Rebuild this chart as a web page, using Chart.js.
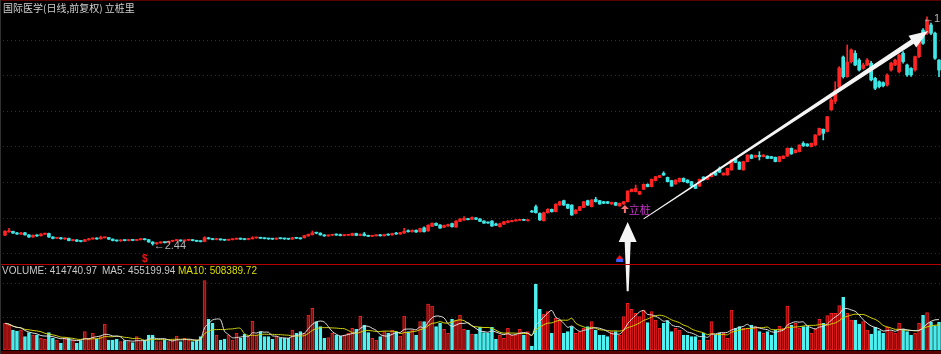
<!DOCTYPE html>
<html>
<head>
<meta charset="utf-8">
<script src="https://cdn.jsdelivr.net/npm/chart.js@4.4.1/dist/chart.umd.min.js"></script>
<style>
body { margin: 0; background: #000; }
#wrap { position: relative; width: 941px; height: 354px; overflow: hidden; background: #000; }
#wrap canvas { position: absolute; left: 0; }
.rule { position: absolute; left: 0; width: 941px; }
.txt { position: absolute; white-space: nowrap; font-family: 'Liberation Sans', Arial, sans-serif; font-size: 10px; line-height: 12px; }
</style>
</head>
<body>
<div id="wrap">
    <canvas id="price" width="941" height="264" style="top:0"></canvas>
    <canvas id="volume" width="941" height="90" style="top:264px"></canvas>
    <canvas id="notes" width="941" height="354" style="top:0"></canvas>
    <div class="rule" style="top:0;height:1px;background:#5a0000"></div>
    <div class="rule" style="top:264px;height:1px;background:#b40000"></div>
    <div class="rule" style="top:351px;height:3px;background:#5a0000"></div>
    <div style="position:absolute;left:0;top:0;width:1px;height:354px;background:#303030"></div>
    <div class="txt" style="left:3px;top:2px;color:#d0d0d0;font-family:'Noto Sans CJK SC',sans-serif">国际医学(日线,前复权) 立桩里</div>
    <div class="txt" style="left:2px;top:265px;color:#c8c8c8">VOLUME: 414740.97</div>
    <div class="txt" style="left:102px;top:265px;color:#c8c8c8">MA5: 455199.94</div>
    <div class="txt" style="left:178px;top:265px;color:#dede00">MA10: 508389.72</div>
</div>
<script>
// daily candles (price units)
const opens = [
    3.01, 3.20, 3.22, 3.13, 3.06, 3.14, 3.02, 2.90, 3.00, 2.97,
    3.06, 3.10, 2.90, 2.83, 2.86, 2.79, 2.82, 2.70, 2.74, 2.67,
    2.65, 2.74, 2.79, 2.84, 2.80, 2.86, 2.87, 2.78, 2.71, 2.68,
    2.73, 2.70, 2.74, 2.71, 2.75, 2.79, 2.75, 2.62, 2.52, 2.57,
    2.62, 2.58, 2.66, 2.70, 2.72, 2.68, 2.72, 2.74, 2.70, 2.67,
    2.65, 2.85, 2.80, 2.76, 2.78, 2.74, 2.72, 2.75, 2.78, 2.82,
    2.78, 2.76, 2.80, 2.85, 2.87, 2.83, 2.81, 2.80, 2.78, 2.83,
    2.82, 2.80, 2.78, 2.86, 2.84, 2.86, 2.96, 3.03, 3.13, 3.12,
    3.02, 2.96, 3.00, 3.06, 3.02, 2.98, 3.00, 2.99, 3.10, 2.99,
    3.07, 2.98, 2.94, 2.97, 3.02, 2.97, 3.04, 3.02, 3.10, 3.07,
    3.12, 3.24, 3.20, 3.28, 3.20, 3.42, 3.25, 3.50, 3.67, 3.58,
    3.45, 3.52, 3.66, 3.46, 3.78, 3.85, 3.94, 3.90, 3.98, 3.92,
    3.80, 3.72, 3.80, 3.64, 3.48, 3.63, 3.72, 3.77, 3.81, 3.84,
    3.88, 3.82, 4.36, 4.61, 4.23, 3.82, 4.27, 4.46, 4.33, 4.70,
    4.95, 4.74, 4.70, 4.23, 4.40, 4.57, 4.95, 4.61, 5.02, 4.95,
    4.89, 4.89, 4.76, 4.84, 4.65, 4.76, 4.89, 5.46, 5.46, 5.31,
    5.59, 5.87, 5.74, 6.08, 6.26, 6.49, 6.26, 6.08, 5.89, 6.02,
    6.21, 6.11, 6.02, 5.83, 5.77, 6.28, 6.15, 6.30, 6.53, 6.75,
    6.40, 6.40, 6.68, 7.33, 7.12, 6.68, 7.15, 7.52, 7.40, 7.50,
    7.43, 7.46, 7.43, 7.39, 7.15, 7.33, 7.46, 7.90, 7.65, 7.71,
    8.18, 8.14, 7.99, 8.08, 8.65, 8.97, 8.84, 10.06, 10.55, 11.35,
    13.04, 11.93, 12.78, 13.25, 12.87, 12.40, 12.59, 12.69, 11.84, 11.65,
    11.60, 11.46, 12.31, 12.59, 12.22, 13.25, 12.59, 12.40, 12.31, 13.06,
    14.56, 14.38, 14.85, 14.38, 12.87
];
const closes = [
    3.22, 3.24, 3.12, 3.07, 3.13, 3.02, 2.90, 3.00, 2.96, 3.07,
    3.10, 2.90, 2.82, 2.86, 2.80, 2.83, 2.70, 2.74, 2.66, 2.65,
    2.75, 2.80, 2.84, 2.79, 2.88, 2.87, 2.78, 2.70, 2.68, 2.73,
    2.70, 2.74, 2.71, 2.75, 2.79, 2.75, 2.62, 2.52, 2.58, 2.62,
    2.58, 2.66, 2.70, 2.74, 2.68, 2.72, 2.74, 2.70, 2.66, 2.64,
    2.86, 2.80, 2.76, 2.79, 2.74, 2.72, 2.76, 2.78, 2.82, 2.78,
    2.76, 2.80, 2.86, 2.87, 2.83, 2.81, 2.79, 2.78, 2.83, 2.81,
    2.79, 2.78, 2.86, 2.83, 2.80, 2.98, 3.05, 3.14, 3.12, 3.02,
    2.96, 3.01, 3.03, 3.01, 2.98, 3.01, 3.02, 3.10, 2.99, 3.05,
    2.98, 2.94, 2.98, 3.01, 2.97, 3.04, 3.01, 3.10, 3.07, 3.15,
    3.22, 3.20, 3.28, 3.18, 3.38, 3.20, 3.56, 3.67, 3.56, 3.40,
    3.55, 3.60, 3.48, 3.80, 3.92, 3.95, 3.88, 4.00, 3.90, 3.78,
    3.68, 3.69, 3.52, 3.56, 3.65, 3.76, 3.80, 3.82, 3.86, 3.88,
    3.84, 3.86, 4.31, 4.27, 3.86, 4.27, 4.46, 4.33, 4.74, 4.89,
    4.70, 4.52, 4.14, 4.42, 4.61, 4.89, 4.70, 4.99, 4.89, 4.76,
    4.80, 4.80, 4.85, 4.69, 4.80, 4.89, 5.49, 5.59, 5.64, 5.46,
    5.87, 5.74, 6.15, 6.30, 6.36, 6.39, 6.02, 5.77, 6.11, 6.21,
    6.02, 5.96, 5.77, 5.64, 6.15, 6.12, 6.30, 6.49, 6.39, 6.55,
    6.50, 6.77, 7.24, 7.10, 6.72, 7.15, 7.52, 7.33, 7.50, 7.43,
    7.52, 7.33, 7.33, 7.15, 7.43, 7.46, 7.90, 7.58, 7.80, 8.08,
    8.03, 8.03, 8.18, 8.65, 9.02, 8.74, 9.68, 10.62, 11.18, 12.42,
    11.93, 12.76, 13.44, 12.59, 12.31, 12.59, 12.87, 11.75, 11.28, 11.37,
    11.42, 12.03, 12.69, 12.87, 13.15, 12.78, 12.03, 12.03, 13.06, 14.00,
    13.81, 15.13, 14.38, 12.97, 12.31
];
const highs = [
    3.26, 3.39, 3.24, 3.16, 3.16, 3.16, 3.04, 3.02, 3.04, 3.09,
    3.12, 3.12, 2.92, 2.88, 2.88, 2.85, 2.84, 2.76, 2.75, 2.69,
    2.77, 2.82, 2.86, 2.86, 2.95, 2.90, 2.88, 2.80, 2.73, 2.75,
    2.75, 2.76, 2.76, 2.77, 2.81, 2.81, 2.77, 2.64, 2.60, 2.64,
    2.64, 2.68, 2.72, 2.76, 2.74, 2.74, 2.76, 2.76, 2.72, 2.69,
    2.92, 2.88, 2.82, 2.81, 2.80, 2.76, 2.78, 2.80, 2.84, 2.84,
    2.80, 2.82, 2.92, 2.89, 2.89, 2.85, 2.83, 2.82, 2.85, 2.85,
    2.84, 2.82, 2.88, 2.88, 2.86, 3.00, 3.07, 3.24, 3.16, 3.14,
    3.04, 3.03, 3.05, 3.08, 3.07, 3.03, 3.04, 3.12, 3.12, 3.08,
    3.16, 3.01, 3.00, 3.03, 3.05, 3.06, 3.08, 3.12, 3.16, 3.17,
    3.39, 3.30, 3.30, 3.30, 3.40, 3.48, 3.60, 3.70, 3.70, 3.60,
    3.58, 3.63, 3.68, 3.82, 3.94, 4.05, 3.96, 4.04, 4.00, 3.94,
    3.82, 3.75, 3.82, 3.68, 3.68, 3.78, 3.82, 3.84, 3.88, 3.90,
    3.90, 3.88, 4.40, 4.70, 4.27, 4.30, 4.50, 4.48, 4.78, 4.92,
    4.98, 4.76, 4.72, 4.45, 4.63, 4.91, 4.98, 5.01, 5.14, 4.97,
    4.91, 4.91, 4.87, 4.86, 4.82, 4.91, 5.51, 5.61, 5.83, 5.48,
    5.89, 5.90, 6.17, 6.32, 6.38, 6.58, 6.28, 6.10, 6.13, 6.23,
    6.23, 6.13, 6.04, 5.85, 6.17, 6.30, 6.32, 6.51, 6.55, 6.85,
    6.52, 6.79, 7.26, 7.35, 7.14, 7.17, 7.54, 7.54, 7.52, 7.71,
    7.54, 7.48, 7.45, 7.41, 7.45, 7.48, 7.92, 7.92, 7.82, 8.10,
    8.27, 8.16, 8.20, 8.67, 9.04, 8.99, 9.70, 10.71, 11.65, 12.50,
    13.10, 13.72, 13.50, 13.40, 12.95, 12.70, 12.95, 12.80, 11.90, 11.70,
    11.65, 12.10, 12.75, 12.92, 13.20, 13.35, 12.65, 12.45, 13.10, 14.05,
    14.65, 15.31, 14.95, 14.45, 12.90
];
const lows = [
    2.98, 3.16, 3.10, 3.05, 3.04, 3.00, 2.88, 2.88, 2.94, 2.95,
    3.04, 2.88, 2.80, 2.81, 2.78, 2.77, 2.68, 2.68, 2.64, 2.63,
    2.64, 2.72, 2.77, 2.77, 2.78, 2.84, 2.76, 2.68, 2.66, 2.66,
    2.68, 2.68, 2.69, 2.69, 2.73, 2.73, 2.60, 2.44, 2.48, 2.54,
    2.56, 2.56, 2.64, 2.68, 2.66, 2.66, 2.70, 2.68, 2.64, 2.62,
    2.63, 2.78, 2.74, 2.74, 2.72, 2.70, 2.70, 2.73, 2.76, 2.76,
    2.74, 2.74, 2.78, 2.83, 2.81, 2.79, 2.77, 2.76, 2.76, 2.79,
    2.77, 2.76, 2.76, 2.81, 2.78, 2.84, 2.94, 3.01, 3.08, 3.00,
    2.94, 2.94, 2.97, 2.99, 2.96, 2.96, 2.98, 2.97, 2.97, 2.97,
    2.96, 2.92, 2.92, 2.95, 2.95, 2.95, 2.99, 3.00, 3.05, 3.05,
    3.10, 3.18, 3.18, 3.16, 3.18, 3.18, 3.22, 3.48, 3.54, 3.38,
    3.43, 3.50, 3.46, 3.44, 3.76, 3.83, 3.86, 3.88, 3.88, 3.76,
    3.66, 3.67, 3.50, 3.54, 3.45, 3.60, 3.70, 3.75, 3.79, 3.82,
    3.82, 3.80, 4.28, 4.25, 3.84, 3.80, 4.24, 4.30, 4.31, 4.68,
    4.68, 4.50, 4.12, 4.20, 4.38, 4.55, 4.68, 4.59, 4.87, 4.74,
    4.78, 4.78, 4.74, 4.67, 4.63, 4.74, 4.87, 5.44, 5.44, 5.29,
    5.57, 5.72, 5.72, 6.06, 6.24, 6.37, 6.00, 5.75, 5.87, 6.00,
    6.00, 5.94, 5.75, 5.62, 5.75, 6.10, 6.13, 6.28, 6.37, 6.53,
    6.38, 6.38, 6.66, 7.08, 6.70, 6.66, 7.13, 7.31, 7.38, 7.24,
    7.41, 7.31, 7.31, 7.13, 7.13, 7.31, 7.44, 7.56, 7.63, 7.69,
    8.01, 8.01, 7.97, 8.06, 8.63, 8.37, 8.82, 10.04, 10.41, 11.30,
    11.85, 11.90, 12.70, 12.55, 12.25, 12.35, 12.55, 11.70, 11.20, 11.30,
    11.35, 11.40, 12.25, 12.55, 12.15, 12.70, 11.95, 11.95, 12.25, 13.00,
    13.75, 14.30, 14.30, 12.90, 11.93
];
const volumes = [
    400000, 375000, 300000, 285000, 300000, 200000, 260000, 225000, 225000, 175000,
    160000, 260000, 175000, 150000, 100000, 175000, 175000, 150000, 100000, 140000,
    275000, 175000, 250000, 160000, 200000, 390000, 150000, 150000, 160000, 125000,
    140000, 125000, 110000, 200000, 125000, 150000, 225000, 225000, 125000, 125000,
    150000, 125000, 150000, 210000, 125000, 175000, 150000, 125000, 150000, 200000,
    1040000, 460000, 400000, 225000, 150000, 165000, 225000, 150000, 250000, 175000,
    235000, 200000, 435000, 225000, 275000, 200000, 200000, 160000, 200000, 175000,
    175000, 175000, 300000, 250000, 275000, 250000, 525000, 625000, 425000, 350000,
    175000, 185000, 250000, 225000, 210000, 225000, 250000, 325000, 310000, 510000,
    375000, 260000, 175000, 150000, 200000, 275000, 250000, 300000, 275000, 210000,
    510000, 275000, 300000, 225000, 425000, 425000, 690000, 660000, 350000, 400000,
    310000, 250000, 460000, 450000, 525000, 310000, 300000, 240000, 240000, 340000,
    260000, 250000, 340000, 160000, 225000, 175000, 325000, 225000, 225000, 310000,
    225000, 275000, 60000, 990000, 610000, 540000, 575000, 250000, 475000, 450000,
    250000, 275000, 350000, 250000, 275000, 325000, 350000, 425000, 300000, 225000,
    225000, 200000, 275000, 275000, 225000, 500000, 700000, 610000, 550000, 500000,
    600000, 410000, 575000, 450000, 325000, 400000, 440000, 275000, 325000, 300000,
    225000, 225000, 200000, 200000, 150000, 250000, 150000, 425000, 225000, 250000,
    250000, 175000, 600000, 325000, 350000, 325000, 325000, 375000, 350000, 275000,
    250000, 275000, 225000, 300000, 360000, 325000, 660000, 375000, 400000, 325000,
    350000, 350000, 250000, 310000, 460000, 400000, 515000, 550000, 550000, 665000,
    790000, 550000, 450000, 450000, 390000, 425000, 300000, 240000, 340000, 290000,
    250000, 340000, 275000, 250000, 400000, 310000, 275000, 225000, 250000, 400000,
    520000, 560000, 420000, 361000, 414740.97
];
const priceGrid = [2, 4, 6, 8, 10, 12, 14];
const volumeGrid = [500000, 1000000];

const days = opens.map((_, i) => i + 1);
const isUp = closes.map((c, i) => c >= opens[i]);
const candleColors = isUp.map(up => up ? '#ff2424' : '#3fe6e6');

function movingAvg(values, n) {
    return values.map((v, i) => {
        const part = values.slice(Math.max(0, i - n + 1), i + 1);
        return part.reduce((a, b) => a + b, 0) / part.length;
    });
}

// dotted red guide lines
const dottedGrid = {
    id: 'dottedGrid',
    beforeDatasetsDraw(chart, args, opts) {
        const { ctx, chartArea, scales } = chart;
        ctx.save();
        ctx.strokeStyle = '#9a0000';
        ctx.lineWidth = 1;
        ctx.setLineDash([1, 3]);
        opts.levels.forEach(v => {
            const y = Math.round(scales.y.getPixelForValue(v)) + 0.5;
            ctx.beginPath();
            ctx.moveTo(chartArea.left, y);
            ctx.lineTo(chartArea.right, y);
            ctx.stroke();
        });
        ctx.restore();
    }
};

const baseOptions = {
    responsive: false,
    animation: false,
    events: [],
    plugins: { legend: { display: false }, tooltip: { enabled: false } }
};

const priceChart = new Chart(document.getElementById('price'), {
    type: 'bar',
    data: {
        labels: days,
        datasets: [{
            data: lows.map((l, i) => [l, highs[i]]),
            backgroundColor: candleColors,
            barThickness: 1,
            grouped: false,
            order: 2
        }, {
            data: opens.map((o, i) => [o, closes[i]]),
            backgroundColor: candleColors,
            barThickness: 3,
            minBarLength: 1,
            grouped: false,
            order: 1
        }]
    },
    options: {
        ...baseOptions,
        layout: { padding: { left: 3, right: 0, top: 4, bottom: 2 } },
        plugins: { ...baseOptions.plugins, dottedGrid: { levels: priceGrid } },
        scales: {
            x: { display: false, offset: true },
            y: { display: false, min: 1.493, max: 16.028 }
        }
    },
    plugins: [dottedGrid]
});

const volumeChart = new Chart(document.getElementById('volume'), {
    type: 'bar',
    data: {
        labels: days,
        datasets: [{
            type: 'line',
            data: movingAvg(volumes, 5),
            borderColor: '#e0e0e0',
            borderWidth: 1,
            pointRadius: 0,
            tension: 0.3,
            order: 0
        }, {
            type: 'line',
            data: movingAvg(volumes, 10),
            borderColor: '#d4d400',
            borderWidth: 1,
            pointRadius: 0,
            tension: 0.3,
            order: 1
        }, {
            data: volumes,
            backgroundColor: isUp.map(up => up ? '#8c0c0c' : '#4ff2f2'),
            borderColor: isUp.map(up => up ? '#f02020' : '#4ff2f2'),
            borderWidth: 1,
            borderSkipped: false,
            barThickness: 3,
            order: 2
        }]
    },
    options: {
        ...baseOptions,
        layout: { padding: { left: 3, right: 0, top: 6, bottom: 4 } },
        plugins: { ...baseOptions.plugins, dottedGrid: { levels: volumeGrid } },
        scales: {
            x: { display: false, offset: true },
            y: { display: false, min: 0, max: 1200000 }
        }
    },
    plugins: [dottedGrid]
});

// hand-drawn arrows and markers, anchored on candles
function arrow(ctx, x0, y0, x1, y1, w0, w1, headLen, headHalf) {
    const len = Math.hypot(x1 - x0, y1 - y0);
    const ux = (x1 - x0) / len, uy = (y1 - y0) / len;
    const nx = -uy, ny = ux;
    const bx = x1 - ux * headLen, by = y1 - uy * headLen;
    ctx.beginPath();
    ctx.moveTo(x0 + nx * w0 / 2, y0 + ny * w0 / 2);
    ctx.lineTo(bx + nx * w1 / 2, by + ny * w1 / 2);
    ctx.lineTo(bx + nx * headHalf, by + ny * headHalf);
    ctx.lineTo(x1, y1);
    ctx.lineTo(bx - nx * headHalf, by - ny * headHalf);
    ctx.lineTo(bx - nx * w1 / 2, by - ny * w1 / 2);
    ctx.lineTo(x0 - nx * w0 / 2, y0 - ny * w0 / 2);
    ctx.closePath();
    ctx.fill();
}

function drawNotes() {
    const ctx = document.getElementById('notes').getContext('2d');
    const px = priceChart.scales.x, py = priceChart.scales.y;
    const vy = volumeChart.scales.y;
    const volTop = 264;

    // low / high labels
    const lowVal = Math.min(...lows), lowIdx = lows.indexOf(lowVal);
    const highVal = Math.max(...highs), highIdx = highs.indexOf(highVal);
    ctx.fillStyle = '#b4b4b4';
    ctx.font = "11px 'Liberation Sans', 'DejaVu Sans', sans-serif";
    ctx.textBaseline = 'middle';
    ctx.fillText('\u2190' + lowVal.toFixed(2), px.getPixelForValue(lowIdx) + 1, py.getPixelForValue(lowVal) + 1);
    ctx.fillText('\u2190' + highVal.toFixed(2), px.getPixelForValue(highIdx) - 4, py.getPixelForValue(highVal) + 2);

    // white arrows
    ctx.fillStyle = '#f4f4f4';
    const ax = px.getPixelForValue(156);
    arrow(ctx, ax, volTop + vy.getPixelForValue(880000), ax, py.getPixelForValue(3.75), 2, 6, 20, 9);
    arrow(ctx, px.getPixelForValue(160), py.getPixelForValue(3.92),
        px.getPixelForValue(231.3), py.getPixelForValue(14.5), 1, 5, 19, 7);

    // 立桩 marker
    const mx = px.getPixelForValue(155.3), my = py.getPixelForValue(lows[156]) + 3;
    ctx.fillStyle = '#ff7272';
    ctx.beginPath();
    ctx.moveTo(mx, my);
    ctx.lineTo(mx + 4, my + 4);
    ctx.lineTo(mx - 4, my + 4);
    ctx.closePath();
    ctx.fill();
    ctx.fillRect(mx - 1, my + 4, 2, 4);
    ctx.fillStyle = '#c832cc';
    ctx.font = "11px 'Noto Sans CJK SC', sans-serif";
    ctx.fillText('立桩', mx + 4, my + 5);

    // small event markers at the bottom of the price panel
    const bottom = priceChart.chartArea.bottom;
    ctx.fillStyle = '#ee1212';
    ctx.font = "bold 10px 'Liberation Sans', sans-serif";
    ctx.textAlign = 'center';
    ctx.fillText('$', px.getPixelForValue(35), bottom - 3);
    const ix = px.getPixelForValue(154);
    ctx.beginPath();
    ctx.moveTo(ix - 3.5, bottom - 3);
    ctx.lineTo(ix, bottom - 7);
    ctx.lineTo(ix + 3.5, bottom - 3);
    ctx.closePath();
    ctx.fill();
    ctx.fillStyle = '#3a5cff';
    ctx.fillRect(ix - 3.5, bottom - 3, 7, 3);
}

drawNotes();
</script>
</body>
</html>
